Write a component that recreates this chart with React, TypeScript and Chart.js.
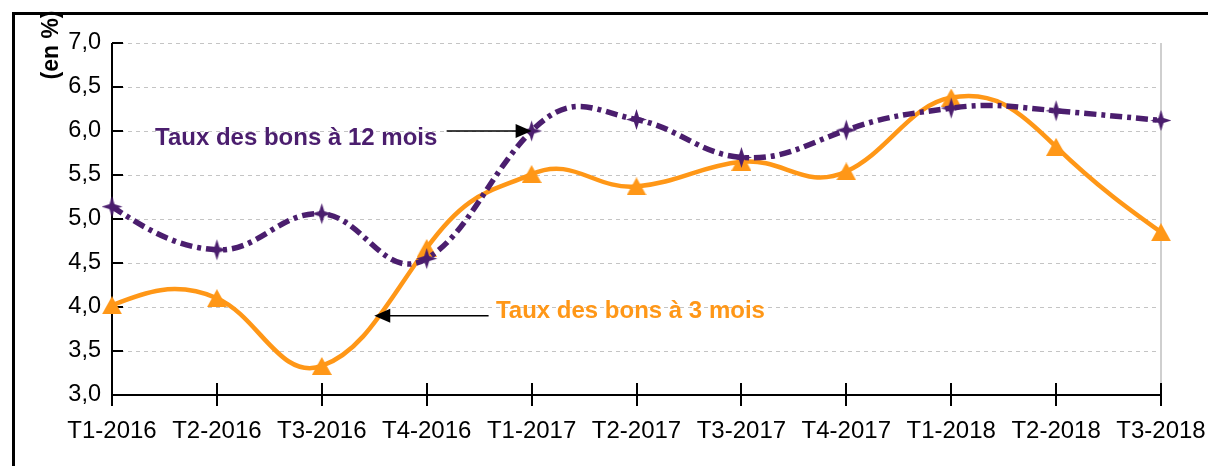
import React, { useEffect, useRef } from "react";
import { Chart, registerables } from "chart.js";

Chart.register(...registerables);

const categories = [
  "T1-2016", "T2-2016", "T3-2016", "T4-2016",
  "T1-2017", "T2-2017", "T3-2017", "T4-2017",
  "T1-2018", "T2-2018", "T3-2018",
];
const taux12Mois = [5.14, 4.65, 5.06, 4.55, 6.0, 6.13, 5.7, 6.01, 6.26, 6.23, 6.12];
const taux3Mois = [4.02, 4.1, 3.33, 4.67, 5.51, 5.37, 5.65, 5.54, 6.38, 5.82, 4.85];
const yTicks = { min: 3, max: 7, step: 0.5 };

const label12 = "Taux des bons à 12 mois";
const label3 = "Taux des bons à 3 mois";
const yTitle = "(en %)";

const PURPLE = "#4b1e6e";
const ORANGE = "#ff9717";
const FONT = "'Liberation Sans', Arial, sans-serif";

// smoothing handle factors (horizontal / vertical)
const SMOOTH = { kx: 0.2, ky: 0.3, endFactor: 0.5 };

function makeStar(color: string, r: number, inner: number) {
  const s = Math.ceil(r * 2 + 2);
  const c = document.createElement("canvas");
  c.width = s;
  c.height = s;
  const ctx = c.getContext("2d")!;
  const cx = s / 2, cy = s / 2;
  ctx.beginPath();
  for (let i = 0; i < 8; i++) {
    const a = -Math.PI / 2 + (i * Math.PI) / 4;
    const rr = i % 2 === 0 ? r : inner;
    ctx.lineTo(cx + rr * Math.cos(a), cy + rr * Math.sin(a));
  }
  ctx.closePath();
  ctx.fillStyle = color;
  ctx.fill();
  return c;
}

function makeTriangle(color: string, w: number, h: number) {
  const c = document.createElement("canvas");
  c.width = Math.ceil(w);
  c.height = Math.ceil(h);
  const ctx = c.getContext("2d")!;
  ctx.beginPath();
  ctx.moveTo(w / 2, 0);
  ctx.lineTo(w, h);
  ctx.lineTo(0, h);
  ctx.closePath();
  ctx.fillStyle = color;
  ctx.fill();
  return c;
}

// annotation anchors in data coordinates (category index, value)
const annotations = {
  text12: { x: 0.41, y: 5.84 },
  arrow12: { from: { x: 3.19, y: 6.0 }, to: { x: 4, y: 6.0 } },
  text3: { x: 3.66, y: 3.875 },
  arrow3: { from: { x: 3.59, y: 3.9 }, to: { x: 2.5, y: 3.9 } },
};

function drawArrow(ctx: CanvasRenderingContext2D, x1: number, y1: number, x2: number, y2: number) {
  const dir = Math.sign(x2 - x1);
  const hl = 16, hw = 7;
  ctx.save();
  ctx.strokeStyle = "#000";
  ctx.fillStyle = "#000";
  ctx.lineWidth = 1.5;
  ctx.beginPath();
  ctx.moveTo(x1, y1);
  ctx.lineTo(x2 - dir * hl * 0.8, y2);
  ctx.stroke();
  ctx.beginPath();
  ctx.moveTo(x2, y2);
  ctx.lineTo(x2 - dir * hl, y2 - hw);
  ctx.lineTo(x2 - dir * hl, y2 + hw);
  ctx.closePath();
  ctx.fill();
  ctx.restore();
}

const smoothPlugin = {
  id: "excelSmooth",
  beforeDatasetDraw(chart: any, args: any) {
    const meta = args.meta;
    const line = meta.dataset;
    if (!line || !line.updateControlPoints) return;
    line.updateControlPoints(chart.chartArea, "x");
    const pts = meta.data;
    const n = pts.length;
    if (n < 3) return;
    const { kx, ky, endFactor } = SMOOTH;
    for (let i = 1; i < n - 1; i++) {
      const p = pts[i];
      const dx = pts[i + 1].x - pts[i - 1].x;
      const dy = pts[i + 1].y - pts[i - 1].y;
      p.cp1x = p.x - kx * dx;
      p.cp1y = p.y - ky * dy;
      p.cp2x = p.x + kx * dx;
      p.cp2y = p.y + ky * dy;
    }
    const a = pts[0], b = pts[1];
    a.cp2x = a.x + (b.cp1x - a.x) * endFactor;
    a.cp2y = a.y + (b.cp1y - a.y) * endFactor;
    a.cp1x = a.x; a.cp1y = a.y;
    const z = pts[n - 1], y = pts[n - 2];
    z.cp1x = z.x + (y.cp2x - z.x) * endFactor;
    z.cp1y = z.y + (y.cp2y - z.y) * endFactor;
    z.cp2x = z.x; z.cp2y = z.y;
    line._path = undefined;
  },
};

const decorPlugin = {
  id: "decor",
  beforeDraw(chart: any) {
    const ctx = chart.ctx;
    ctx.save();
    ctx.fillStyle = "#fff";
    ctx.fillRect(0, 0, chart.width, chart.height);
    ctx.restore();
  },
  beforeDatasetsDraw(chart: any) {
    const ctx = chart.ctx;
    const { left, right, top, bottom } = chart.chartArea;
    const xs = chart.scales.x;
    const ys = chart.scales.y;
    ctx.save();
    ctx.strokeStyle = "#c4c4c4";
    ctx.lineWidth = 1;
    ctx.setLineDash([4, 4]);
    ys.ticks.forEach((_: any, i: number) => {
      const y = Math.round(ys.getPixelForTick(i)) + 0.5;
      if (Math.abs(y - bottom) < 2) return;
      ctx.beginPath();
      ctx.moveTo(left, y);
      ctx.lineTo(right, y);
      ctx.stroke();
    });
    ctx.setLineDash([]);
    ctx.strokeStyle = "#cfcfcf";
    ctx.lineWidth = 2;
    ctx.beginPath();
    ctx.moveTo(right, top);
    ctx.lineTo(right, bottom);
    ctx.stroke();
    ctx.strokeStyle = "#000";
    ctx.lineWidth = 2;
    ctx.beginPath();
    ctx.moveTo(left, top);
    ctx.lineTo(left, bottom);
    ctx.lineTo(right, bottom);
    ctx.stroke();
    ys.ticks.forEach((_: any, i: number) => {
      const y = Math.round(ys.getPixelForTick(i));
      ctx.beginPath();
      ctx.moveTo(left, y);
      ctx.lineTo(left + 11, y);
      ctx.stroke();
    });
    xs.ticks.forEach((_: any, i: number) => {
      const x = Math.round(xs.getPixelForTick(i));
      ctx.beginPath();
      ctx.moveTo(x, bottom - 12);
      ctx.lineTo(x, bottom + 11);
      ctx.stroke();
    });
    ctx.restore();
  },
  afterDraw(chart: any) {
    const ctx = chart.ctx;
    const xs = chart.scales.x;
    const ys = chart.scales.y;
    const px = (p: { x: number; y: number }) => ({ x: xs.getPixelForValue(p.x), y: ys.getPixelForValue(p.y) });
    ctx.save();
    ctx.font = `bold 24px ${FONT}`;
    ctx.textBaseline = "alphabetic";
    ctx.textAlign = "left";
    const t12 = px(annotations.text12);
    ctx.fillStyle = PURPLE;
    ctx.fillText(label12, t12.x, t12.y);
    const t3 = px(annotations.text3);
    ctx.fillStyle = ORANGE;
    ctx.fillText(label3, t3.x, t3.y);
    const a1 = px(annotations.arrow12.from), a2 = px(annotations.arrow12.to);
    drawArrow(ctx, a1.x, a1.y, a2.x, a2.y);
    const b1 = px(annotations.arrow3.from), b2 = px(annotations.arrow3.to);
    drawArrow(ctx, b1.x, b1.y, b2.x, b2.y);

    ctx.save();
    ctx.translate(52, 45);
    ctx.rotate(-Math.PI / 2);
    ctx.font = `bold 23px ${FONT}`;
    ctx.fillStyle = "#000";
    ctx.textAlign = "center";
    ctx.textBaseline = "middle";
    ctx.fillText(yTitle, 0, 0);
    ctx.restore();

    ctx.strokeStyle = "#000";
    ctx.lineWidth = 3;
    ctx.beginPath();
    ctx.moveTo(13.5, chart.height + 5);
    ctx.lineTo(13.5, 13.5);
    ctx.lineTo(chart.width + 5, 13.5);
    ctx.stroke();
    ctx.restore();
  },
};

export default function App() {
  const ref = useRef<HTMLCanvasElement | null>(null);
  useEffect(() => {
    if (!ref.current) return;
    const star = makeStar(PURPLE, 10.5, 3.6);
    const tri = makeTriangle(ORANGE, 20, 18);
    const chart = new Chart(ref.current, {
      type: "line",
      data: {
        labels: categories,
        datasets: [
          {
            label: label12,
            data: taux12Mois,
            borderColor: PURPLE,
            backgroundColor: PURPLE,
            borderWidth: 5.5,
            borderDash: [12, 5, 4, 5],
            borderCapStyle: "butt",
            tension: 0.4,
            pointStyle: star as any,
            pointRadius: 10,
            pointBorderWidth: 0,
          },
          {
            label: label3,
            data: taux3Mois,
            borderColor: ORANGE,
            backgroundColor: ORANGE,
            borderWidth: 4.5,
            tension: 0.4,
            pointStyle: tri as any,
            pointRadius: 10,
            pointBorderWidth: 0,
          },
        ],
      },
      options: {
        responsive: false,
        animation: false,
        devicePixelRatio: 1,
        layout: { padding: { left: 0, top: 43, right: 47, bottom: 0 } },
        plugins: {
          legend: { display: false },
          tooltip: { enabled: false },
          title: { display: false },
        },
        scales: {
          x: {
            type: "category",
            offset: false,
            grid: { display: false, drawTicks: false },
            border: { display: false },
            ticks: {
              color: "#000",
              font: { family: FONT, size: 24 },
              maxRotation: 0,
              minRotation: 0,
              autoSkip: false,
              padding: 22,
            },
            afterFit: (s: any) => {
              s.height = 71;
              s.paddingLeft = 0;
              s.paddingRight = 0;
            },
          },
          y: {
            min: yTicks.min,
            max: yTicks.max,
            grid: { display: false, drawTicks: false },
            border: { display: false },
            ticks: {
              stepSize: yTicks.step,
              color: "#000",
              font: { family: FONT, size: 23.5 },
              padding: 11,
              callback: (v: any) => Number(v).toFixed(1).replace(".", ","),
            },
            afterFit: (s: any) => {
              s.width = 112;
              s.paddingTop = 0;
              s.paddingBottom = 0;
            },
          },
        },
      },
      plugins: [smoothPlugin, decorPlugin],
    });
    return () => chart.destroy();
  }, []);
  return (
    <div style={{ position: "absolute", left: 0, top: 0, width: 1208, height: 466 }}>
      <canvas ref={ref} width={1208} height={466} style={{ display: "block" }} />
    </div>
  );
}
